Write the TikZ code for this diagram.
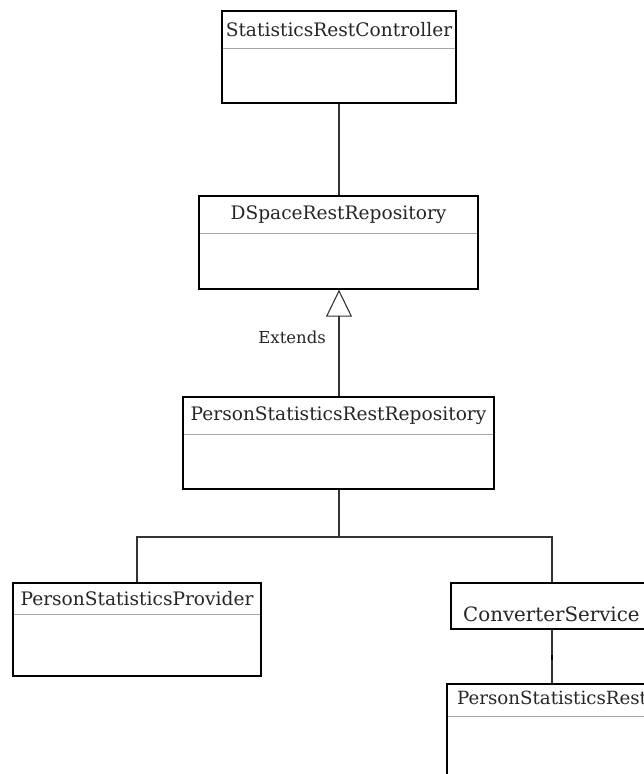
\documentclass[tikz,border=0pt]{standalone}
\usepackage{fontspec}
\setmainfont{DejaVu Serif}
\usetikzlibrary{arrows.meta}
\begin{document}
\begin{tikzpicture}[x=1pt,y=-1pt,
  classbox/.style={draw=black,line width=1.3pt,fill=white,inner sep=0pt},
  hdr/.style={draw=gray!70,line width=1pt},
  title/.style={font=\fontsize{18.6}{20}\selectfont,inner sep=0pt,text=black!85},
  conn/.style={draw=black!80,line width=1.1pt},
  lbl/.style={font=\fontsize{16.5}{18}\selectfont,inner sep=0pt,text=black!85}]
\useasboundingbox (0,0) rectangle (644,774);
\clip (0,0) rectangle (644,774);
% boxes
\node[classbox,minimum width=234pt,minimum height=92pt] (b1) at (339,57) {};
\node[title] (t1) at (339,29.5) {StatisticsRestController};
\draw[hdr] (222.6,48) -- (455.4,48);
\node[classbox,minimum width=279pt,minimum height=93pt] (b2) at (338.5,242.5) {};
\node[title] (t2) at (338.5,214.5) {DSpaceRestRepository};
\draw[hdr] (199.6,233) -- (477.4,233);
\node[classbox,minimum width=311pt,minimum height=92pt] (b3) at (338.5,443) {};
\node[title] (t3) at (338.5,415.5) {PersonStatisticsRestRepository};
\draw[hdr] (183.6,434) -- (493.4,434);
\node[classbox,minimum width=248pt,minimum height=93pt] (b4) at (137,629.5) {};
\node[title] (t4) at (137,598.5) {PersonStatisticsProvider};
\draw[hdr] (13.6,614) -- (260.4,614);
\node[classbox,minimum width=220pt,minimum height=46pt] (b5) at (561,606) {};
\node[title,font=\fontsize{19.8}{21}\selectfont,anchor=base west] (t5) at (463,621) {ConverterService};
\node[classbox,minimum width=330pt,minimum height=94pt] (b6) at (612,731) {};
\node[title,font=\fontsize{18.2}{20}\selectfont,anchor=west] (t6) at (457,700) {PersonStatisticsRestRepository};
\draw[hdr] (447.6,716) -- (777,716);
% connectors
\draw[conn] (b1.south -| 339,0) -- (b2.north -| 339,0);
\draw[conn,-{Triangle[open,length=27pt,width=26pt,line width=1.1pt]}] (b3.north -| 339,0) -- (b2.south -| 339,0);
\node[lbl,anchor=east] (ext) at (326,337) {Extends};
\coordinate (j) at (339,537);
\draw[conn] (b3.south -| 339,0) -- (j);
\draw[conn] (j) -| (b4.north);
\draw[conn] (j) -| (b5.north -| 552,0);
\draw[conn] (b5.south -| 552,0) -- (b6.north -| 552,0);
\draw[draw=black,line width=2.4pt] (552,655) -- (552,660);
\end{tikzpicture}
\end{document}
